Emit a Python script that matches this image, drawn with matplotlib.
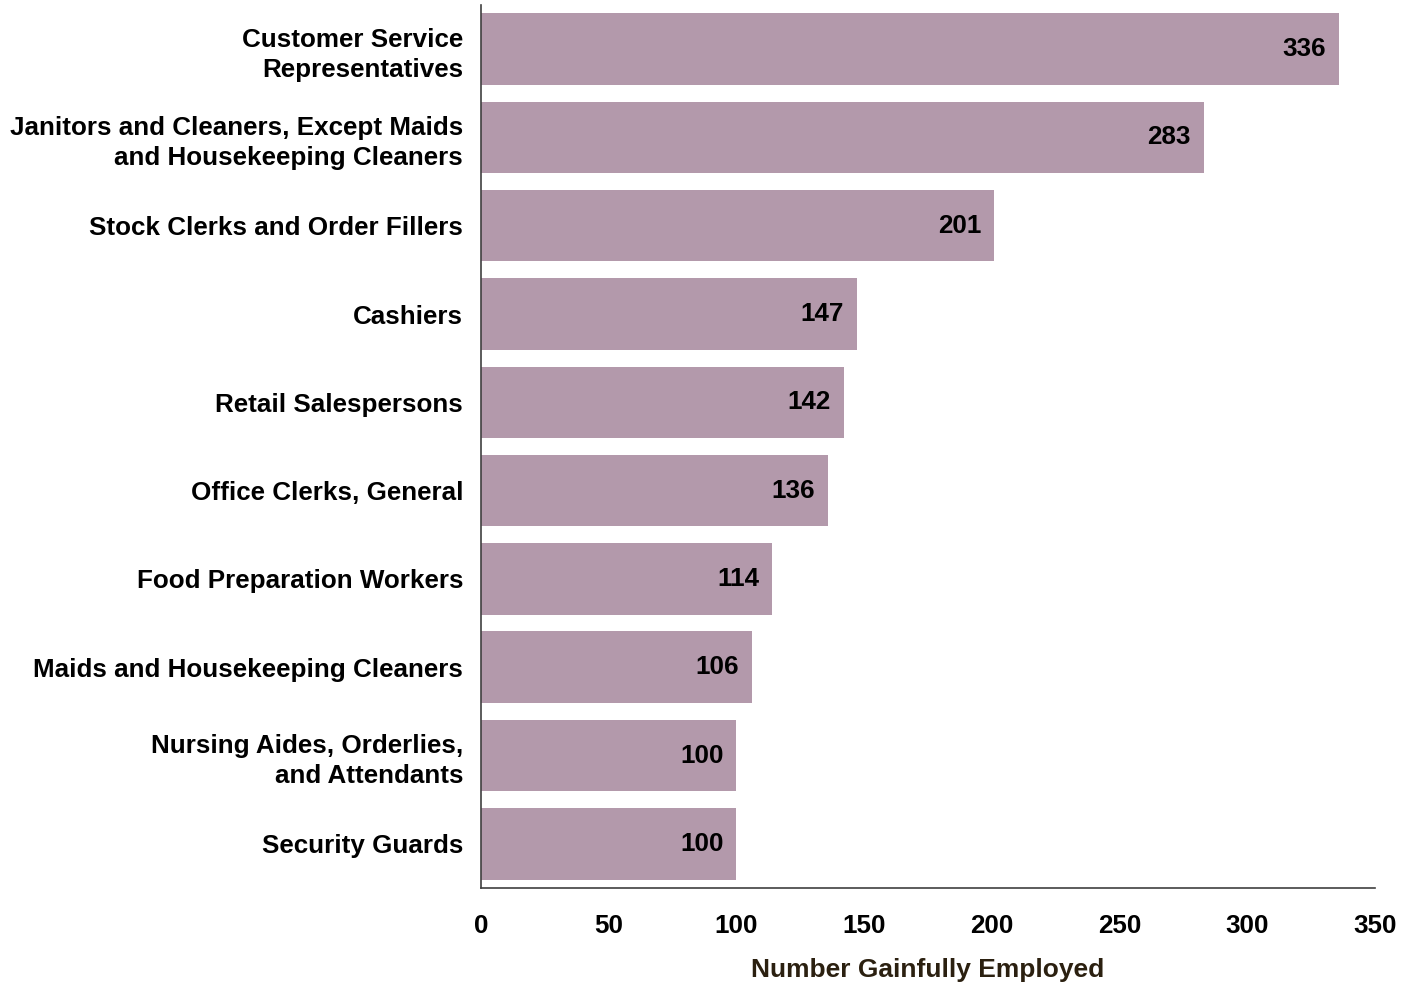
import matplotlib
matplotlib.use('Agg')
import matplotlib.pyplot as plt

occupations = [
    'Customer Service\nRepresentatives',
    'Janitors and Cleaners, Except Maids\nand Housekeeping Cleaners',
    'Stock Clerks and Order Fillers',
    'Cashiers',
    'Retail Salespersons',
    'Office Clerks, General',
    'Food Preparation Workers',
    'Maids and Housekeeping Cleaners',
    'Nursing Aides, Orderlies,\nand Attendants',
    'Security Guards',
]
employed = [336, 283, 201, 147, 142, 136, 114, 106, 100, 100]
x_ticks = [0, 50, 100, 150, 200, 250, 300, 350]

plt.rcParams['font.family'] = ['Liberation Sans', 'DejaVu Sans']
plt.rcParams['font.weight'] = 'bold'
fs = 18.75

fig = plt.figure(figsize=(14.15, 9.86), dpi=100)
ax = fig.add_axes([0.340, 0.0994, 0.6317, 0.8956])

pos = list(range(len(occupations)))
bars = ax.barh(pos, employed, height=0.81, color='#b399ab')
for b, v in zip(bars, employed):
    ax.annotate(str(v), (b.get_width(), b.get_y() + b.get_height() / 2),
                xytext=(-13, 0), textcoords='offset pixels',
                ha='right', va='center', fontsize=fs, fontweight='bold', color='black')

ax.set_ylim(len(occupations) - 0.5, -0.5)
ax.set_xlim(0, 350)
ax.set_yticks(pos)
ax.set_yticklabels(occupations, fontsize=fs, fontweight='bold', linespacing=1.32)
ax.set_xticks(x_ticks)
ax.set_xticklabels([str(t) for t in x_ticks], fontsize=fs, fontweight='bold')
ax.tick_params(axis='both', length=0)
ax.tick_params(axis='x', pad=19)
ax.tick_params(axis='y', pad=13)

for s in ['top', 'right']:
    ax.spines[s].set_visible(False)
for s in ['left', 'bottom']:
    ax.spines[s].set_color('#404040')
    ax.spines[s].set_linewidth(1.2)

ax.set_xlabel('Number Gainfully Employed', fontsize=19, fontweight='bold',
              color='#2b2010', labelpad=14)

fig.savefig('out.png', dpi=100)
